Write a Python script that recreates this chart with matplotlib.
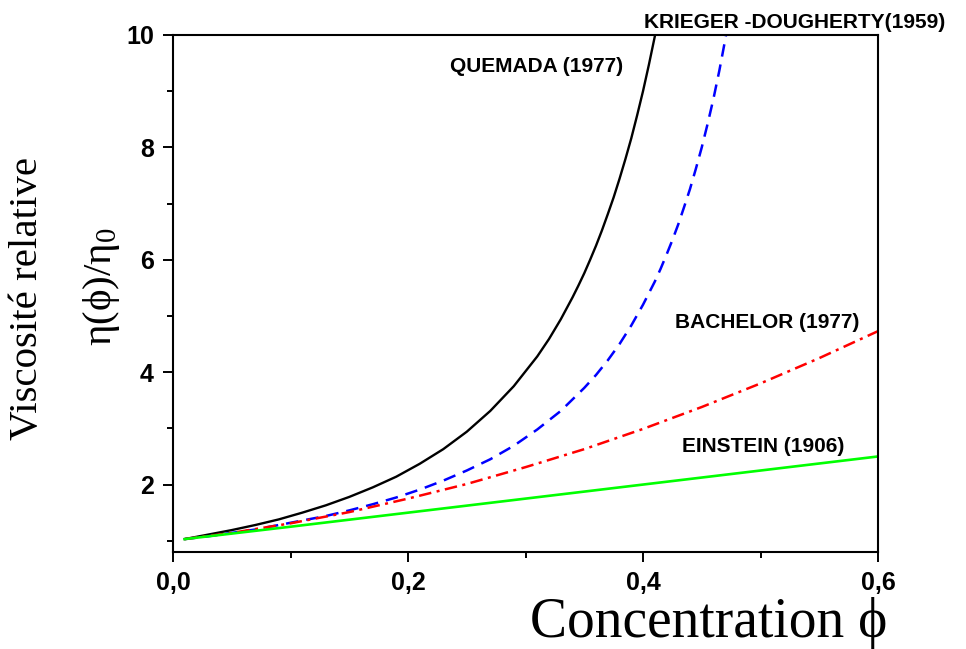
import matplotlib
matplotlib.use("Agg")
import matplotlib.pyplot as plt
from matplotlib.ticker import FixedLocator, FixedFormatter

# ---- data ----
phi_quemada = [0.01, 0.03, 0.05, 0.07, 0.09, 0.11, 0.13, 0.15, 0.17, 0.19, 0.21, 0.23,
               0.25, 0.27, 0.29, 0.31, 0.32, 0.33, 0.34, 0.345, 0.35, 0.355, 0.36, 0.365,
               0.37, 0.375, 0.38, 0.385, 0.39, 0.395, 0.40, 0.405, 0.41, 0.415]
eta_quemada = [1.03, 1.11, 1.19, 1.28, 1.38, 1.50, 1.63, 1.78, 1.95, 2.14, 2.37, 2.63,
               2.94, 3.31, 3.75, 4.28, 4.59, 4.94, 5.33, 5.54, 5.76, 6.00, 6.25, 6.52,
               6.81, 7.11, 7.44, 7.79, 8.16, 8.57, 9.00, 9.47, 9.97, 10.52]

phi_krieger = [0.01, 0.03, 0.05, 0.07, 0.09, 0.11, 0.13, 0.15, 0.17, 0.19, 0.21, 0.23,
               0.25, 0.27, 0.29, 0.31, 0.33, 0.35, 0.36, 0.37, 0.38, 0.39, 0.40, 0.41,
               0.415, 0.42, 0.425, 0.43, 0.435, 0.44, 0.445, 0.45, 0.455, 0.46, 0.465,
               0.47, 0.475]
eta_krieger = [1.03, 1.08, 1.14, 1.20, 1.28, 1.36, 1.44, 1.54, 1.65, 1.77, 1.91, 2.07,
               2.25, 2.45, 2.69, 2.98, 3.31, 3.72, 3.95, 4.21, 4.50, 4.83, 5.20, 5.61,
               5.84, 6.09, 6.35, 6.63, 6.94, 7.26, 7.62, 8.00, 8.42, 8.87, 9.37,
               9.92, 10.52]

phi_bachelor = [0.01, 0.05, 0.10, 0.15, 0.20, 0.25, 0.30, 0.35, 0.40, 0.45, 0.50, 0.55, 0.60]
eta_bachelor = [1.03, 1.14, 1.31, 1.51, 1.75, 2.01, 2.31, 2.63, 2.99, 3.38, 3.80, 4.25, 4.73]

phi_einstein = [0.01, 0.10, 0.20, 0.30, 0.40, 0.50, 0.60]
eta_einstein = [1.03, 1.25, 1.50, 1.75, 2.00, 2.25, 2.50]

x_ticks = [0.0, 0.2, 0.4, 0.6]
x_tick_labels = ["0,0", "0,2", "0,4", "0,6"]
x_minor = [0.1, 0.3, 0.5]
y_ticks = [2, 4, 6, 8, 10]
y_tick_labels = ["2", "4", "6", "8", "10"]
y_minor = [1, 3, 5, 7, 9]

plt.rcParams["mathtext.fontset"] = "custom"
plt.rcParams["mathtext.rm"] = "Liberation Serif"
plt.rcParams["mathtext.it"] = "Liberation Serif:italic"

W, H = 966, 649
fig = plt.figure(figsize=(W / 100, H / 100), dpi=100)
ax = fig.add_axes([173 / W, 1 - 552 / H, (878 - 173) / W, (552 - 35) / H])

ax.plot(phi_quemada, eta_quemada, color="black", lw=1.7, solid_joinstyle="round")
ax.plot(phi_krieger, eta_krieger, color="#0000FF", lw=1.8, dashes=(5.0, 3.2))
ax.plot(phi_bachelor, eta_bachelor, color="#FF0000", lw=1.8, dashes=(5.0, 2.2, 1.2, 2.2))
ax.plot(phi_einstein, eta_einstein, color="#00FF00", lw=1.9)

ax.set_xlim(0.0, 0.6)
ax.set_ylim(0.8, 10)

ax.xaxis.set_major_locator(FixedLocator(x_ticks))
ax.xaxis.set_major_formatter(FixedFormatter(x_tick_labels))
ax.xaxis.set_minor_locator(FixedLocator(x_minor))
ax.yaxis.set_major_locator(FixedLocator(y_ticks))
ax.yaxis.set_major_formatter(FixedFormatter(y_tick_labels))
ax.yaxis.set_minor_locator(FixedLocator(y_minor))

ax.tick_params(which="major", direction="out", length=7.2, width=1.4, pad=6.5)
ax.tick_params(which="minor", direction="out", length=4.2, width=1.4)
for s in ax.spines.values():
    s.set_linewidth(1.5)

for lab in ax.get_xticklabels() + ax.get_yticklabels():
    lab.set_fontfamily("Liberation Sans")
    lab.set_fontweight("bold")
    lab.set_fontsize(18)

sans = dict(family="Liberation Sans", fontweight="bold", fontsize=15, va="center", ha="left")
fig.text(450 / W, 1 - 67 / H, "QUEMADA (1977)", **sans)
fig.text(644 / W, 1 - 23 / H, "KRIEGER -DOUGHERTY(1959)", **sans)
fig.text(675 / W, 1 - 323 / H, "BACHELOR (1977)", **sans)
fig.text(682 / W, 1 - 446 / H, "EINSTEIN (1906)", **sans)

serif = ["Liberation Serif", "DejaVu Serif"]
fig.text(28 / W, 1 - 299 / H, "Viscosité relative", family=serif, fontsize=29.5,
         rotation=90, ha="center", va="center")
fig.text(101 / W, 1 - 287 / H, r"η(ϕ)/η$_{\rm 0}$", family=serif, fontsize=29.5,
         rotation=90, ha="center", va="center")
fig.text(887 / W, 1 - 637 / H, "Concentration ϕ", family=serif, fontsize=40,
         ha="right", va="baseline")

fig.savefig("out.png", dpi=100)
